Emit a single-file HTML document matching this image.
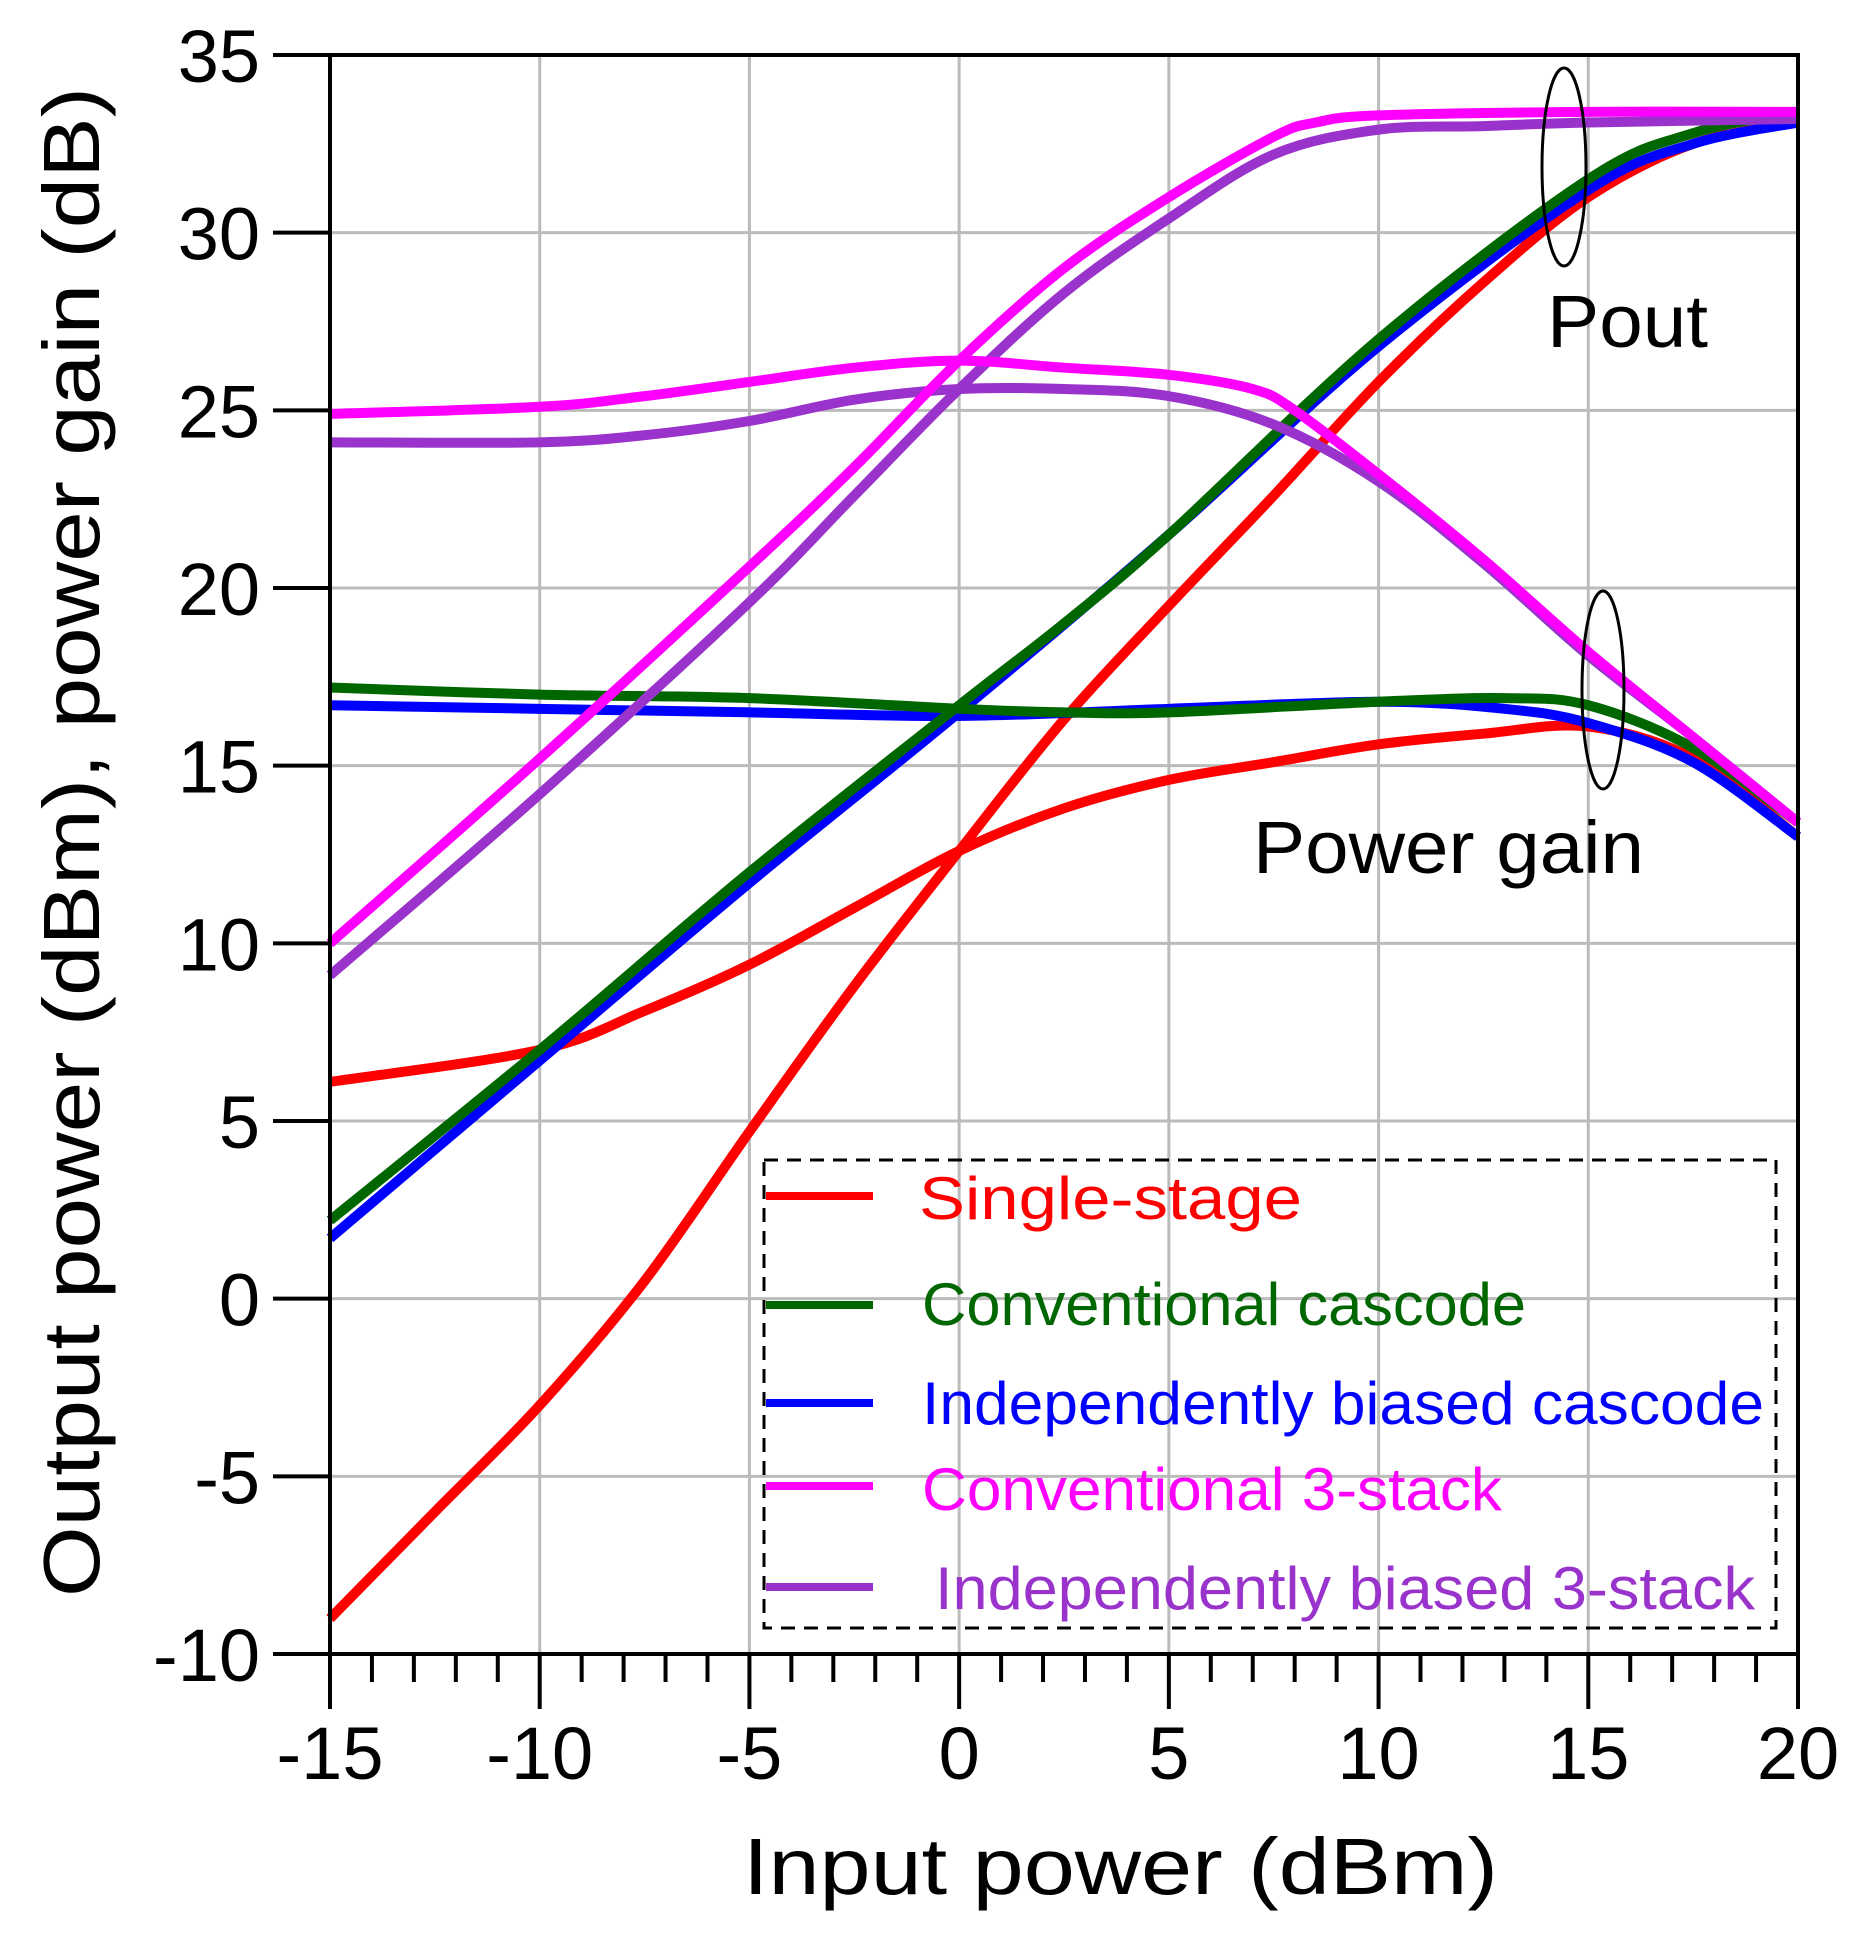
<!DOCTYPE html>
<html><head><meta charset="utf-8"><style>
html,body{margin:0;padding:0;background:#fff;}
svg{display:block;}
text{font-family:"Liberation Sans",sans-serif;}
</style></head><body>
<svg id="chart" width="1857" height="1945" viewBox="0 0 1857 1945" xmlns="http://www.w3.org/2000/svg">
<g id="grid"></g>
<g id="series"></g>
<g id="axes"></g>
<g id="legend">
<rect x="764" y="1160" width="1012" height="468" fill="none" stroke="#000" stroke-width="3" stroke-dasharray="14,9"/>
</g>
<ellipse cx="1564" cy="167" rx="22" ry="99" fill="none" stroke="#000" stroke-width="3"/>
<ellipse cx="1603" cy="690" rx="21" ry="99" fill="none" stroke="#000" stroke-width="3"/>
<text x="1547" y="347" font-size="74" textLength="161" lengthAdjust="spacingAndGlyphs">Pout</text>
<text x="1253" y="873" font-size="74" textLength="391" lengthAdjust="spacingAndGlyphs">Power gain</text>
<text x="743" y="1894" font-size="80" textLength="755" lengthAdjust="spacingAndGlyphs">Input power (dBm)</text>
<text transform="translate(99,1597) rotate(-90)" x="0" y="0" font-size="80" textLength="1510" lengthAdjust="spacingAndGlyphs">Output power (dBm), power gain (dB)</text>
</svg>
<script>
const xTicks = [-15,-10,-5,0,5,10,15,20];
const yTicks = [-10,-5,0,5,10,15,20,25,30,35];
const xTickLabels = ["-15","-10","-5","0","5","10","15","20"];
const yTickLabels = ["-10","-5","0","5","10","15","20","25","30","35"];
const seriesNames = ["Single-stage","Conventional cascode","Independently biased cascode","Conventional 3-stack","Independently biased 3-stack"];
const singlePoutX = [-15,-12.5,-10,-7.5,-5,-2.5,0,2.5,5,7.5,10,12.5,15,17.5,20];
const singlePoutY = [-9,-6,-3,0.5,4.7,8.8,12.6,16.3,19.5,22.6,25.8,28.6,31,32.5,33.1];
const singleGainX = [-15,-10,-7.5,-5,-2.5,0,2.5,5,7.5,10,12.5,15,17.5,20];
const singleGainY = [6.1,7.0,8.1,9.4,11,12.6,13.8,14.6,15.1,15.6,15.9,16.1,15.2,13];
const convPoutX = [-15,-10,-5,0,2.5,5,10,15,17.5,20];
const convPoutY = [2.2,7.0,12,16.7,19,21.5,27,31.5,32.8,33.4];
const convGainX = [-15,-10,-5,0,2.5,5,10,13,15,17.5,20];
const convGainY = [17.2,17.0,16.9,16.6,16.5,16.5,16.8,16.9,16.7,15.5,13.4];
const indPoutX = [-15,-10,-5,0,5,10,15,17.5,20];
const indPoutY = [1.7,6.7,11.7,16.5,21.5,26.8,31.2,32.5,33.1];
const indGainX = [-15,-10,-5,0,5,10,13,15,17.5,20];
const indGainY = [16.7,16.6,16.5,16.4,16.6,16.8,16.6,16.2,15.1,13];
const conv3PoutX = [-15,-10,-5,-2.5,0,2.5,5,7.5,8.5,10,15,20];
const conv3PoutY = [10,15.2,20.6,23.4,26.4,29,31,32.7,33.1,33.3,33.4,33.4];
const conv3GainX = [-15,-10,-7.5,-5,-2.5,0,2.5,5,7,8,10,12.5,15,17.5,20];
const conv3GainY = [24.9,25.1,25.4,25.8,26.2,26.4,26.2,26,25.6,25,23.2,20.8,18.2,15.8,13.4];
const ind3PoutX = [-15,-10,-5,-2.5,0,2.5,5,7.5,10,12.5,15,20];
const ind3PoutY = [9.1,14.2,19.6,22.6,25.6,28.3,30.4,32.2,32.9,33.0,33.1,33.2];
const ind3GainX = [-15,-10,-7.5,-5,-2.5,0,2.5,5,7.5,10,12.5,15,17.5,20];
const ind3GainY = [24.1,24.1,24.3,24.7,25.3,25.6,25.6,25.4,24.6,23,20.7,18.1,15.8,13.4];

const X0=330,X1=1798,Y0=1654,Y1=55;
function sx(v){return X0+(v+15)/35*(X1-X0);}
function sy(v){return Y0-(v+10)/45*(Y0-Y1);}
const NS="http://www.w3.org/2000/svg";
function mk(tag,attrs,parent){const e=document.createElementNS(NS,tag);for(const k in attrs)e.setAttribute(k,attrs[k]);parent.appendChild(e);return e;}
const grid=document.getElementById('grid'),axes=document.getElementById('axes'),ser=document.getElementById('series'),leg=document.getElementById('legend');
xTicks.forEach((t,i)=>{
  if(i>0&&i<xTicks.length-1){const g=mk('line',{x1:sx(t),x2:sx(t),y1:Y1,y2:Y0,stroke:'#bbb','stroke-width':3},grid);
  
  }
  const tk=mk('line',{x1:sx(t),x2:sx(t),y1:Y0,y2:Y0+55,stroke:'#000','stroke-width':4},axes);
  
  
  const tx=mk('text',{x:sx(t),y:Y0+125,'font-size':74,'text-anchor':'middle'},axes);tx.textContent=xTickLabels[i];
  
  
});
for(let v=-14;v<20;v++){if((v+15)%5===0)continue;
  const m=mk('line',{x1:sx(v),x2:sx(v),y1:Y0,y2:Y0+28,stroke:'#000','stroke-width':4},axes);
  
  }
yTicks.forEach((t,i)=>{
  if(i>0&&i<yTicks.length-1){const g=mk('line',{x1:X0,x2:X1,y1:sy(t),y2:sy(t),stroke:'#bbb','stroke-width':3},grid);
  
  }
  const tk=mk('line',{x1:X0-57,x2:X0,y1:sy(t),y2:sy(t),stroke:'#000','stroke-width':4},axes);
  
  
  const tx=mk('text',{x:X0-70,y:sy(t)+27,'font-size':74,'text-anchor':'end'},axes);tx.textContent=yTickLabels[i];
  
  
});
const fr=mk('rect',{x:X0,y:Y1,width:X1-X0,height:Y0-Y1,fill:'none',stroke:'#000','stroke-width':4},axes);


function path(xs,ys){const p=xs.map((x,i)=>[sx(x),sy(ys[i])]);let d='M'+p[0][0]+','+p[0][1];
  for(let i=0;i<p.length-1;i++){const a=p[i-1]||p[i],b=p[i],c=p[i+1],e=p[i+2]||c;
    d+=' C'+(b[0]+(c[0]-a[0])/6)+','+(b[1]+(c[1]-a[1])/6)+' '+(c[0]-(e[0]-b[0])/6)+','+(c[1]-(e[1]-b[1])/6)+' '+c[0]+','+c[1];}
  return d;}
const colors=['#ff0000','#006600','#0000ff','#ff00ff','#9933cc'];
const data=[[singlePoutX,singlePoutY,singleGainX,singleGainY],[indPoutX,indPoutY,indGainX,indGainY],[convPoutX,convPoutY,convGainX,convGainY],[ind3PoutX,ind3PoutY,ind3GainX,ind3GainY],[conv3PoutX,conv3PoutY,conv3GainX,conv3GainY]];
const order=[0,2,1,4,3];
data.forEach((d,k)=>{const c=colors[order[k]];
  const a=mk('path',{d:path(d[0],d[1]),fill:'none',stroke:c,'stroke-width':10,'stroke-linejoin':'round'},ser);
  
  
  const b=mk('path',{d:path(d[2],d[3]),fill:'none',stroke:c,'stroke-width':10,'stroke-linejoin':'round'},ser);
  
  
});
const ly=[1196,1305,1403,1486,1587],tb=[1219,1325,1424,1510,1609],tx0=[919,922,922,922,935],tw=[383,604,842,580,820];
seriesNames.forEach((n,i)=>{
  const l=mk('line',{x1:766,x2:873,y1:ly[i],y2:ly[i],stroke:colors[i],'stroke-width':8},leg);
  
  
  const t=mk('text',{x:tx0[i],y:tb[i],'font-size':60,fill:colors[i],textLength:tw[i],lengthAdjust:'spacingAndGlyphs'},leg);t.textContent=n;
  
  
});
</script>
</body></html>
